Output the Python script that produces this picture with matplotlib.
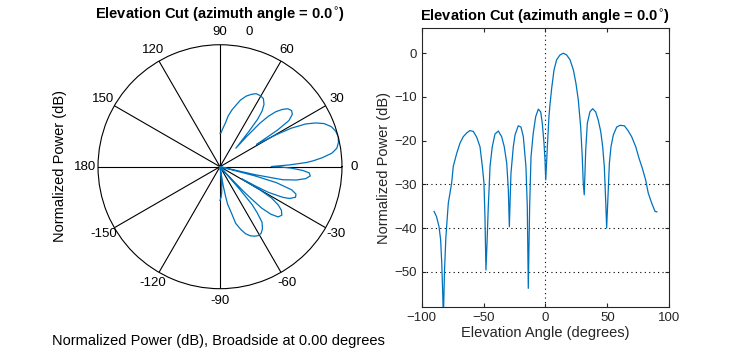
import numpy as np
import matplotlib
matplotlib.use("Agg")
import matplotlib.pyplot as plt

plt.rcParams["font.family"] = ["Liberation Sans", "DejaVu Sans"]

# elevation cut (degrees, dB)
elev_deg = [-90, -88, -86, -84.7, -83.8, -83, -82.5, -81.6, -80.5, -79.3,
            -78.5, -75.8, -74.5, -71.7, -69.1, -66.4, -63.5, -61, -58.3, -55.6,
            -52.9, -51, -49.7, -48.9, -48.1, -47.3, -46.2, -45.6, -44.8, -43,
            -40.8, -38.1, -35.4, -33.3, -31.3, -30, -29.2, -28.5, -27.9, -26,
            -24.6, -22, -19.8, -17.9, -15.8, -14.7, -13.9, -12.8, -11.7, -9.9,
            -7.9, -5.8, -3.9, -2.6, -1.2, -0.4, 0.2, 1.5, 2.8, 3.6,
            5, 6.9, 9, 11.7, 14.4, 17.1, 19.8, 22.5, 24.6, 26.5,
            28.4, 29.7, 30.5, 31.3, 32.5, 33.8, 35.9, 38.1, 40.5, 42.6,
            44.6, 46.2, 47.5, 48.6, 49.4, 50.7, 51.6, 52.9, 54.8, 57.5,
            60.2, 63.7, 66.4, 69.6, 72.9, 75.5, 78.2, 80.9, 83, 85.8,
            88.5, 90]
power_db = [-36.2, -37.4, -39.7, -42.7, -48, -55, -61, -50, -42.3, -37.4,
            -34.3, -29.7, -25.9, -22.9, -20.6, -19.1, -18.2, -17.7, -17.9, -19.2,
            -21.4, -25.9, -29.7, -37.4, -49.6, -44, -35, -31.3, -25.9, -21.4,
            -18.5, -17.8, -19.1, -21.4, -25.2, -31.3, -39.7, -33, -27.5, -21.4,
            -18.7, -16.6, -16.9, -19.1, -25.9, -35.1, -53.8, -35.1, -23.7, -18.3,
            -14.5, -12.8, -13.4, -16, -20.6, -24.4, -29, -21.4, -14.5, -11.8,
            -8, -3.8, -1.5, -0.4, 0, -0.4, -1.5, -3.8, -6.9, -10.7,
            -16.8, -23.7, -29.7, -32.4, -22.1, -16, -13.4, -12.7, -13.4, -15.3,
            -17.9, -21.4, -25.9, -33.6, -40, -31.3, -25.2, -21.4, -18.7, -16.9,
            -16.5, -16.6, -17.6, -19.1, -21.4, -24, -26.3, -29, -32, -34.3,
            -36.2, -36.3]

theta_ticks = [0, 30, 60, 90, 120, 150, 180, 210, 240, 270, 300, 330]
theta_labels = ["0", "30", "60", "90", "120", "150", "180",
                "-150", "-120", "-90", "-60", "-30"]
x_ticks = [-100, -50, 0, 50, 100]
y_ticks = [0, -10, -20, -30, -40, -50]

title = "Elevation Cut (azimuth angle = 0.0$^{\\circ}$)"
line_color = "#0072BD"
dark = "#262626"

fig = plt.figure(figsize=(7.38, 3.49), dpi=100)

# left: polar pattern
axp = fig.add_axes([0.1328, 0.1728, 0.3306, 0.699], projection="polar")
r_db = np.maximum(np.array(power_db), -50)
axp.plot(np.deg2rad(elev_deg), r_db, color=line_color, lw=0.9)
axp.set_rlim(-50, 0)
axp.set_rgrids([])
axp.set_yticklabels([])
axp.set_thetagrids(theta_ticks, theta_labels)
axp.grid(True, axis="x", color="black", lw=0.8, linestyle="-")
axp.grid(False, axis="y")
axp.spines["polar"].set_color("black")
axp.spines["polar"].set_linewidth(0.8)
axp.tick_params(axis="x", labelsize=9.5, pad=-1.5, colors="black")
fig.text(220 / 738, 1 - 15 / 349, title, fontsize=10.5, fontweight="bold",
         ha="center", va="center")
fig.text(249 / 738, 1 - 32 / 349, "0", fontsize=9.5, ha="center", va="center")
fig.text(60 / 738, 1 - 166 / 349, "Normalized Power (dB)", fontsize=10.5,
         rotation=90, ha="center", va="center")
fig.text(218 / 738, 1 - 341 / 349, "Normalized Power (dB), Broadside at 0.00 degrees",
         fontsize=10.5, ha="center", va="center")

# right: cartesian cut
ax = fig.add_axes([0.5714, 0.1212, 0.3355, 0.7977])
ax.plot(elev_deg, power_db, color=line_color, lw=0.9)
ax.set_xlim(-100, 100)
ax.set_ylim(-58, 5.7)
ax.set_xticks(x_ticks)
ax.set_yticks(y_ticks)
for yv in [-30, -40, -50]:
    ax.axhline(yv, color="black", lw=0.8, linestyle=(0, (1, 3)), zorder=0)
ax.axvline(0, color="black", lw=0.8, linestyle=(0, (1, 3)), zorder=0)
ax.tick_params(direction="in", top=True, right=True, length=3, width=0.8,
               labelsize=9.5, colors=dark, labelcolor=dark)
for s in ax.spines.values():
    s.set_color(dark)
    s.set_linewidth(0.8)
ax.set_xlabel("Elevation Angle (degrees)", fontsize=10.5, color=dark, labelpad=2)
ax.set_ylabel("Normalized Power (dB)", fontsize=10.5, color=dark, labelpad=2)
ax.set_title(title, fontsize=10.5, fontweight="bold", pad=5)

plt.savefig("out.png", dpi=100)
